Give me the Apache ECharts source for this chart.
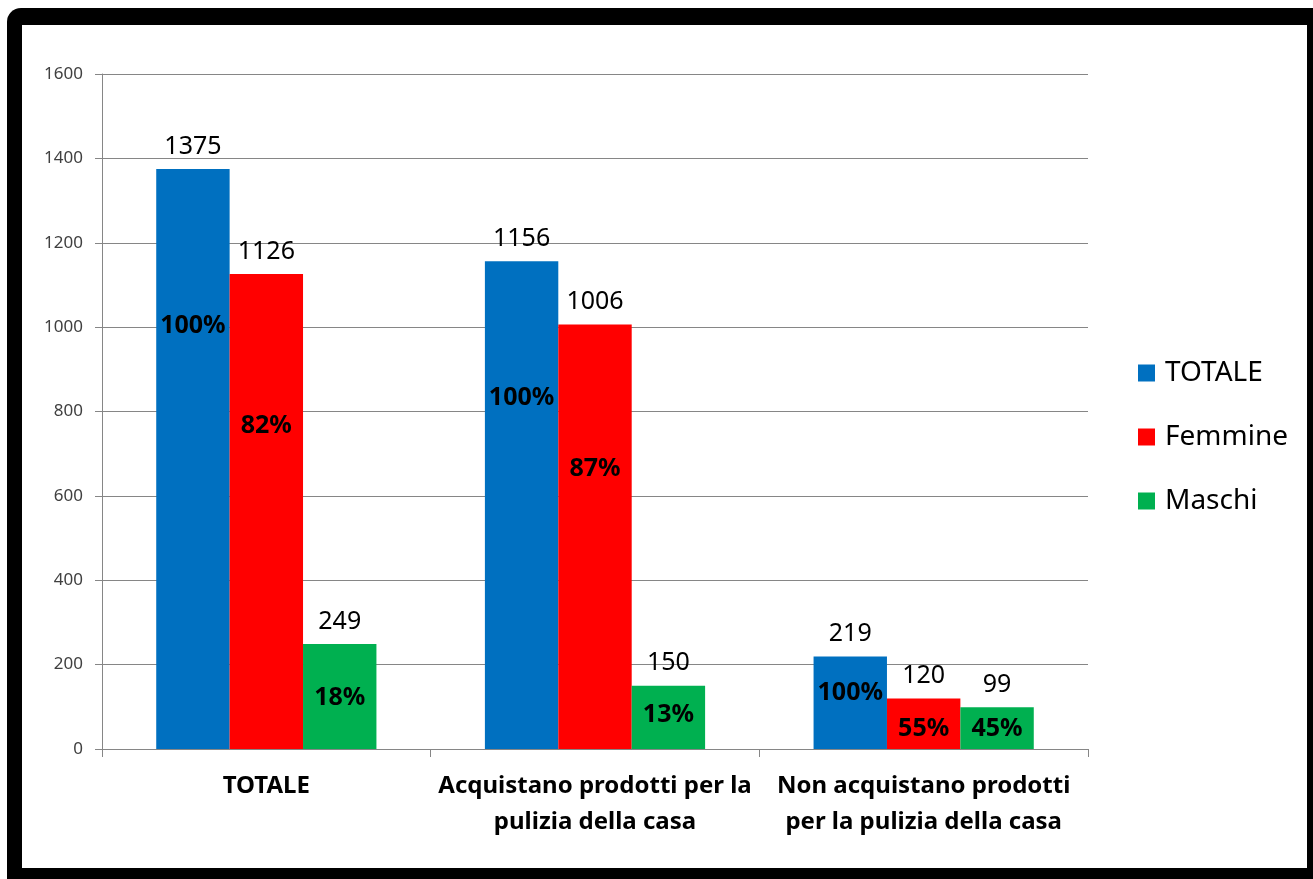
<!DOCTYPE html>
<html><head><meta charset="utf-8">
<script src="https://cdn.jsdelivr.net/npm/echarts@6/dist/echarts.min.js"></script>
<style>html,body{margin:0;padding:0;background:#fff;}#c{width:1313px;height:879px;}</style>
</head><body><div id="c"></div>
<script>
var categories = ['TOTALE', 'Acquistano prodotti per la\npulizia della casa', 'Non acquistano prodotti\nper la pulizia della casa'];
var seriesNames = ['TOTALE', 'Femmine', 'Maschi'];
var totale = [1375, 1156, 219];
var femmine = [1126, 1006, 120];
var maschi = [249, 150, 99];
var totalePct = ['100%', '100%', '100%'];
var femminePct = ['82%', '87%', '55%'];
var maschiPct = ['18%', '13%', '45%'];
var yTicks = {min: 0, max: 1600, interval: 200};

// style: relative height (fraction of bar) at which the percent label sits
var pctLevel = [[0.73, 0.72, 0.61], [0.68, 0.66, 0.39], [0.49, 0.54, 0.47]];
var colors = ['#0070C0', '#FF0000', '#00B050'];
var FONT = '"Noto Sans", "Open Sans", sans-serif';
var CAT_GAP = 0.33;

var values = [totale, femmine, maschi];
var pcts = [totalePct, femminePct, maschiPct];
var pctData = [], pctText = [];
for (var s = 0; s < 3; s++) {
  for (var c = 0; c < 3; c++) {
    pctData.push([c, s, values[s][c], pctLevel[s][c]]);
    pctText.push(pcts[s][c]);
  }
}

var chart = echarts.init(document.getElementById('c'), null, {renderer: 'canvas'});
var barSeries = seriesNames.map(function (n, i) {
  return {
    name: n, type: 'bar', data: values[i], barGap: '0%', barCategoryGap: (CAT_GAP * 100) + '%',
    itemStyle: {color: colors[i]},
    label: {show: true, position: 'top', distance: 10, color: '#000', fontFamily: FONT, fontSize: 25}
  };
});
barSeries.push({
  type: 'custom', name: 'pct', data: pctData, encode: {x: 0, y: 2}, silent: true, z: 10,
  renderItem: function (params, api) {
    var c = api.value(0), s = api.value(1), v = api.value(2), f = api.value(3);
    var band = api.size([1, 0])[0];
    var bw = band * (1 - CAT_GAP) / 3;
    var cx = api.coord([c, 0])[0] + (s - 1) * bw;
    var y = api.coord([c, v * f])[1];
    return {type: 'text', x: cx, y: y, style: {text: pctText[params.dataIndex], fill: '#000',
      fontFamily: FONT, fontWeight: 'bold', fontSize: 25, align: 'center', verticalAlign: 'middle'}};
  }
});

chart.setOption({
  animation: false,
  backgroundColor: '#fff',
  graphic: [
    {type: 'rect', z: -10, shape: {x: 7, y: 8, width: 1320, height: 890, r: [14, 0, 0, 0]}, style: {fill: '#000'}},
    {type: 'rect', z: -9, shape: {x: 22, y: 25, width: 1285, height: 843}, style: {fill: '#fff'}}
  ],
  grid: {left: 102, right: 225, top: 74, bottom: 130},
  legend: {
    data: seriesNames, orient: 'vertical', left: 1133, top: 354,
    itemWidth: 17, itemHeight: 17, itemGap: 36, icon: 'rect',
    textStyle: {fontFamily: FONT, fontSize: 28, color: '#000', lineHeight: 28, padding: [0, 0, 0, 5]}
  },
  xAxis: {
    type: 'category', data: categories,
    axisLine: {lineStyle: {color: '#868686', width: 1}},
    axisTick: {show: true, length: 8, lineStyle: {color: '#868686'}},
    axisLabel: {interval: 0, color: '#000', fontFamily: FONT, fontWeight: 'bold', fontSize: 24, lineHeight: 36, margin: 19}
  },
  yAxis: {
    type: 'value', min: yTicks.min, max: yTicks.max, interval: yTicks.interval,
    axisLine: {show: true, lineStyle: {color: '#868686', width: 1}},
    axisTick: {show: true, length: 7, lineStyle: {color: '#868686'}},
    splitLine: {lineStyle: {color: '#868686', width: 1}},
    axisLabel: {color: '#404040', fontFamily: FONT, fontSize: 17, margin: 19, formatter: function (v) { return String(v); }}
  },
  series: barSeries
});
</script></body></html>
